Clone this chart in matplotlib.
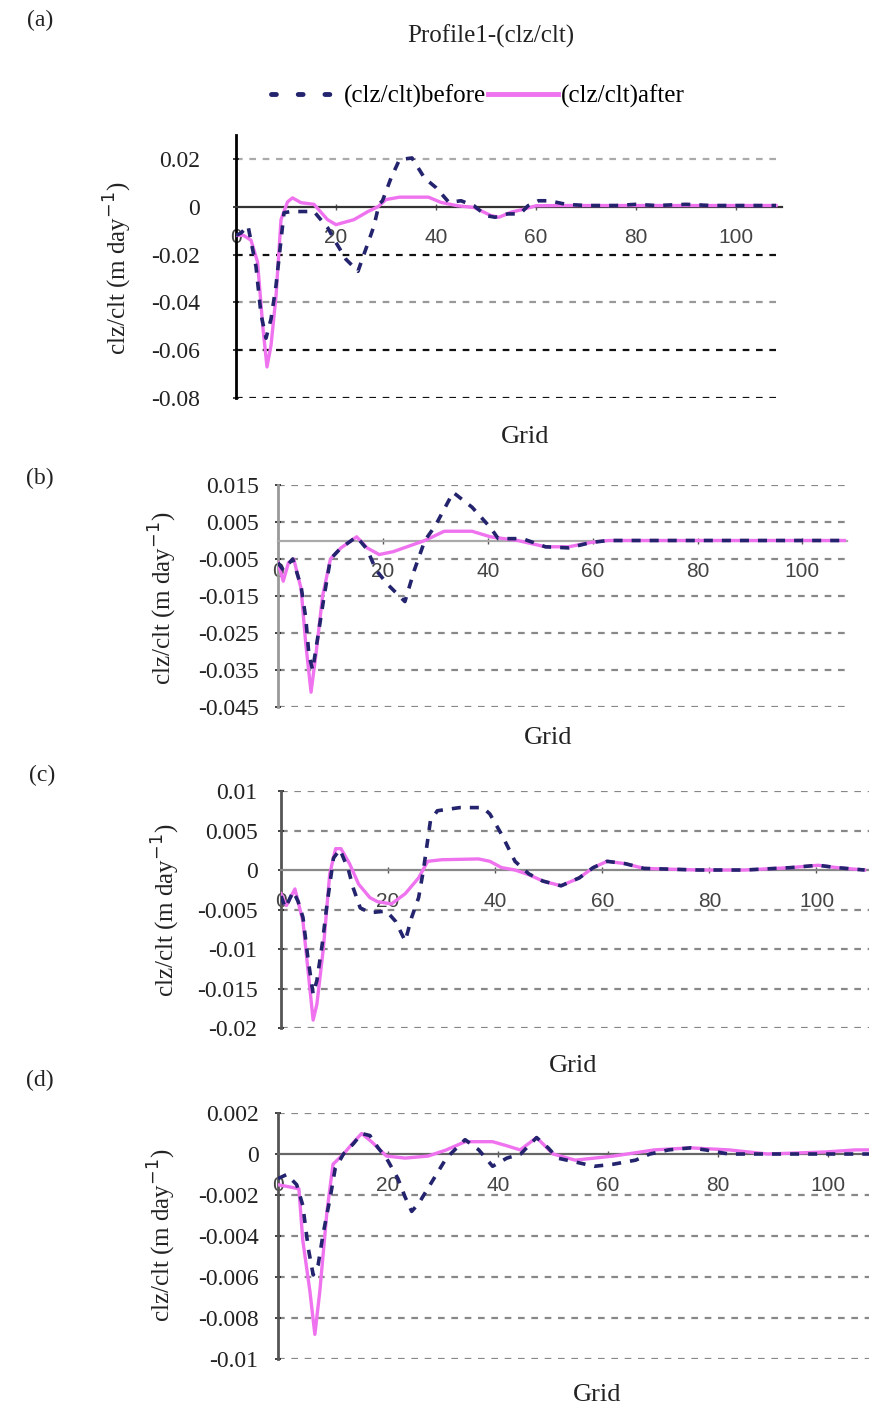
import matplotlib
matplotlib.use('Agg')
import matplotlib.pyplot as plt
from matplotlib.lines import Line2D

SERIF = 'Liberation Serif'
SANS = 'Liberation Sans'
C_BEFORE = '#23236e'
C_AFTER = '#ef72ef'

# panel (a)
xa_b = [0, 1, 2.4, 4, 5, 6, 7, 8, 9.6, 11, 13, 15.6, 18.4, 20, 22, 24.4, 25.4, 26.6, 27.6, 28.6, 29.3, 31,
        32.7, 35.2, 37.7, 40, 42.6, 45, 47.6, 50, 51.8, 54.3, 56.8, 58.4, 60.5, 62.6, 66, 70, 76, 80, 84, 90,
        95, 100, 104, 108]
ya_b = [-0.012, -0.011, -0.008, -0.025, -0.045, -0.055, -0.047, -0.033, -0.0025, -0.002, -0.002, -0.002,
        -0.009, -0.015, -0.022, -0.027, -0.021, -0.014, -0.008, 0.001, 0.0025, 0.012, 0.0197, 0.0204, 0.012,
        0.008, 0.0018, 0.0025, 0.0004, -0.0037, -0.0044, -0.003, -0.003, 0.0004, 0.0025, 0.0025, 0.001,
        0.0005, 0.0005, 0.001, 0.0005, 0.001, 0.0005, 0.0005, 0.0005, 0.0005]
xa_a = [0, 1.5, 3, 4.3, 5.4, 6.2, 7, 8, 9, 10.3, 11.3, 13, 15.6, 18.3, 20, 23.6, 26.4, 28.4, 30, 32.7, 38.5,
        41, 44.3, 47.6, 51, 52.6, 55, 57.6, 60, 65, 70, 80, 90, 100, 108]
ya_a = [-0.012, -0.012, -0.014, -0.023, -0.051, -0.067, -0.058, -0.0375, -0.0054, 0.002, 0.0037, 0.0017,
        0.001, -0.0054, -0.0075, -0.0054, -0.002, 0.0, 0.003, 0.004, 0.004, 0.0018, 0.0004, -0.0003, -0.0037,
        -0.0044, -0.0023, -0.001, 0.0004, 0.0005, 0.0005, 0.0005, 0.0005, 0.0005, 0.0005]
ticks_a = [-0.08, -0.06, -0.04, -0.02, 0, 0.02]
labels_a = ['-0.08', '-0.06', '-0.04', '-0.02', '0', '0.02']

# panel (b)
xb_b = [0, 1, 2.8, 4.4, 5.3, 5.9, 6.6, 7.6, 8.8, 10, 12, 15, 17, 18.7, 21, 24.2, 26, 28, 30, 33.4, 37, 40.5,
        42, 46.6, 51, 55.4, 59.8, 63, 70, 80, 90, 100, 108]
yb_b = [-0.006, -0.008, -0.005, -0.0124, -0.021, -0.031, -0.035, -0.026, -0.015, -0.005, -0.002, 0.001,
        -0.0024, -0.008, -0.012, -0.0165, -0.008, 0.0, 0.004, 0.013, 0.009, 0.0035, 0.0005, 0.0005, -0.0017,
        -0.002, -0.0005, 0, 0, 0, 0, 0, 0]
xb_a = [0, 1, 2, 3, 4.4, 5.3, 6.3, 7.3, 8.5, 10, 12, 15, 17, 19.3, 22, 24, 28, 31.7, 37, 40.5, 45.7, 51, 55.4,
        59.8, 63, 70, 80, 90, 100, 108]
yb_a = [-0.006, -0.011, -0.006, -0.005, -0.013, -0.028, -0.041, -0.030, -0.015, -0.005, -0.002, 0.001,
        -0.002, -0.0038, -0.003, -0.002, 0, 0.0025, 0.0025, 0.001, 0, -0.0017, -0.0017, -0.0005, 0, 0, 0, 0,
        0, 0]
ticks_b = [-0.045, -0.035, -0.025, -0.015, -0.005, 0.005, 0.015]
labels_b = ['-0.045', '-0.035', '-0.025', '-0.015', '-0.005', '0.005', '0.015']

# panel (c)
xc_b = [0, 0.8, 2.3, 3.2, 4.1, 5, 6, 6.7, 7.7, 8.6, 9.8, 11, 12.6, 13.5, 14.8, 16.6, 19.7, 21.4, 23.2, 24.4,
        25.7, 26.6, 27.9, 29.2, 33.4, 37.7, 39, 41.2, 43.7, 46.3, 48.9, 52.3, 55.7, 58.3, 60.9, 64.3, 67.8,
        78, 86.6, 95.2, 100.3, 103.8, 109]
yc_b = [-0.0033, -0.0048, -0.0027, -0.004, -0.006, -0.011, -0.0157, -0.014, -0.0094, -0.0043, 0.0015,
        0.0026, 0, -0.0023, -0.0048, -0.0054, -0.0052, -0.0065, -0.009, -0.006, -0.0035, 0, 0.0062, 0.0075,
        0.0079, 0.0079, 0.0071, 0.0045, 0.0011, -0.0005, -0.0014, -0.002, -0.001, 0.0003, 0.0011, 0.0008,
        0.0002, 0, 0, 0.0003, 0.0006, 0.0003, 0]
xc_a = [0, 1, 2.6, 4.1, 5, 6, 6.7, 7.9, 9.1, 10.2, 11.2, 12.8, 14.5, 16.6, 18, 20.6, 23.2, 25.7, 27.4, 30,
        36.9, 39, 41.2, 43.7, 46.3, 48.9, 52.3, 55.7, 58.3, 60.9, 64.3, 67.8, 78, 86.6, 95.2, 100.3, 103.8, 109]
yc_a = [-0.003, -0.0045, -0.0024, -0.0065, -0.0124, -0.019, -0.017, -0.01, -0.0005, 0.0027, 0.0027, 0.0008,
        -0.0018, -0.0035, -0.004, -0.0043, -0.003, -0.001, 0.0011, 0.0013, 0.0014, 0.0011, 0.0003, 0, -0.0006,
        -0.0014, -0.002, -0.001, 0.0003, 0.0011, 0.0008, 0.0002, 0, 0, 0.0003, 0.0006, 0.0003, 0]
ticks_c = [-0.02, -0.015, -0.01, -0.005, 0, 0.005, 0.01]
labels_c = ['-0.02', '-0.015', '-0.01', '-0.005', '0', '0.005', '0.01']

# panel (d)
xd_b = [0, 1.6, 3.4, 4.5, 5.5, 6.4, 7.3, 8.2, 9.5, 10.4, 11.9, 13.7, 15.2, 16.7, 18.2, 19.7, 21.8, 23.1, 24.3,
        25.6, 28.1, 30.6, 34, 36.5, 39, 41.6, 44.1, 47, 49.1, 50.8, 54.2, 57.5, 60.9, 65, 67.6, 71, 75, 77.7,
        81.9, 87.7, 99.5, 108]
yd_b = [-0.0012, -0.001, -0.0015, -0.0025, -0.0046, -0.0059, -0.0054, -0.0039, -0.0021, -0.0007, 0, 0.0005,
        0.001, 0.0009, 0.0003, -0.0002, -0.0012, -0.0021, -0.0028, -0.0024, -0.0013, -0.0002, 0.0007, 0.0002,
        -0.0006, -0.0002, 0, 0.0008, 0.0003, -0.0002, -0.0004, -0.0006, -0.0005, -0.0003, 0, 0.0002, 0.0003,
        0.0002, 0, 0, 0, 0]
xd_a = [0, 2, 3.8, 4.5, 5.8, 6.7, 7.6, 8.9, 10, 11.9, 13.5, 15.2, 17, 19.7, 23.1, 27.3, 30.6, 34, 39, 41.6,
        44, 47, 50, 54, 57.5, 61, 68.4, 75, 82, 89, 99.5, 105, 108]
yd_a = [-0.0015, -0.0016, -0.0017, -0.0042, -0.0067, -0.0088, -0.0067, -0.0028, -0.0005, 0, 0.0005, 0.001,
        0.0006, -0.0001, -0.0002, -0.0001, 0.0002, 0.0006, 0.0006, 0.0004, 0.0002, 0.0008, 0, -0.0003, -0.0002,
        -0.0001, 0.0002, 0.0003, 0.0002, 0, 0.0001, 0.0002, 0.0002]
ticks_d = [-0.01, -0.008, -0.006, -0.004, -0.002, 0, 0.002]
labels_d = ['-0.01', '-0.008', '-0.006', '-0.004', '-0.002', '0', '0.002']

xticks = [0, 20, 40, 60, 80, 100]

W, H = 870, 1411
fig = plt.figure(figsize=(W / 100, H / 100), dpi=100)


def px(x0, y0, x1, y1):
    # pixel box (top-left origin) -> figure fraction
    return [x0 / W, 1 - y1 / H, (x1 - x0) / W, (y1 - y0) / H]


def panel(box, xb, yb, xa, ya, ticks, labels, ylim, xmax, grid_cols, spine_col, zero_col, ypad):
    ax = fig.add_axes(box)
    ax.set_xlim(0, xmax)
    ax.set_ylim(*ylim)
    for t, c in zip(ticks, grid_cols):
        if t == 0:
            continue
        ax.axhline(t, color=c, lw=1.6, ls=(0, (3, 3)), zorder=1)
    ax.plot(xa, ya, color=C_AFTER, lw=2.4, zorder=3, solid_joinstyle='round')
    ax.plot(xb, yb, color=C_BEFORE, lw=2.6, ls=(0, (2.5, 2.5)), zorder=4)
    for s in ['top', 'right']:
        ax.spines[s].set_visible(False)
    ax.spines['left'].set_color(spine_col)
    ax.spines['left'].set_linewidth(2)
    ax.spines['bottom'].set_position(('data', 0))
    ax.spines['bottom'].set_color(zero_col)
    ax.spines['bottom'].set_linewidth(1.6)
    ax.set_yticks(ticks)
    ax.set_yticklabels(labels, fontfamily=SERIF, fontsize=17)
    ax.tick_params(axis='y', length=4, width=1.2, direction='inout', pad=ypad, colors='#222222')
    ax.set_xticks(xticks)
    ax.set_xticklabels([str(v) for v in xticks], fontfamily=SANS, fontsize=15, color='#444444')
    ax.tick_params(axis='x', length=5, width=1, direction='inout', pad=13, color='#555555')
    ax.patch.set_alpha(0)
    return ax


panel(px(236, 135, 782, 398), xa_b, ya_b, xa_a, ya_a, ticks_a, labels_a, (-0.08, 0.03), 109.2,
      ['#111111', '#111111', '#999999', '#111111', '#555555', '#aaaaaa'], '#000000', '#333333', 24)
panel(px(278, 485, 847, 707), xb_b, yb_b, xb_a, yb_a, ticks_b, labels_b, (-0.045, 0.015), 108.5,
      ['#888888'] * 7, '#999999', '#aaaaaa', 12)
panel(px(281, 791, 870, 1028), xc_b, yc_b, xc_a, yc_a, ticks_c, labels_c, (-0.02, 0.01), 110,
      ['#888888'] * 7, '#555555', '#888888', 15)
panel(px(278, 1113, 870, 1359), xd_b, yd_b, xd_a, yd_a, ticks_d, labels_d, (-0.01, 0.002), 107.6,
      ['#888888'] * 7, '#555555', '#666666', 12)

ylab = 'clz/clt (m day$^{-1}$)'
for (x, y) in [(118, 268), (163, 598), (166, 910), (162, 1235)]:
    fig.text(x / W, 1 - y / H, ylab, rotation=90, ha='center', va='center',
             fontfamily=SERIF, fontsize=18, color='#222222')
for (x, y) in [(525, 437), (548, 738), (573, 1066), (597, 1395)]:
    fig.text(x / W, 1 - y / H, 'Grid', ha='center', va='center', fontfamily=SERIF, fontsize=19,
             color='#222222')
for (x, y, s) in [(40, 20, '(a)'), (40, 478, '(b)'), (42, 775, '(c)'), (40, 1080, '(d)')]:
    fig.text(x / W, 1 - y / H, s, ha='center', va='center', fontfamily=SERIF, fontsize=17,
             color='#222222')

fig.text(491 / W, 1 - 36 / H, 'Profile1-(clz/clt)', ha='center', va='center', fontfamily=SERIF,
         fontsize=18, color='#222222')

handles = [Line2D([], [], color=C_BEFORE, lw=3.5, ls=(0, (1, 4.5)), dash_capstyle='round'),
           Line2D([], [], color=C_AFTER, lw=3.5)]
fig.legend(handles, ['(clz/clt)before', '(clz/clt)after'], loc='center',
           bbox_to_anchor=(478 / W, 1 - 96 / H), ncol=2, frameon=False, handlelength=2.8,
           handletextpad=0.1, columnspacing=0.1, prop={'family': SERIF, 'size': 18})

fig.savefig('out.png', dpi=100)
